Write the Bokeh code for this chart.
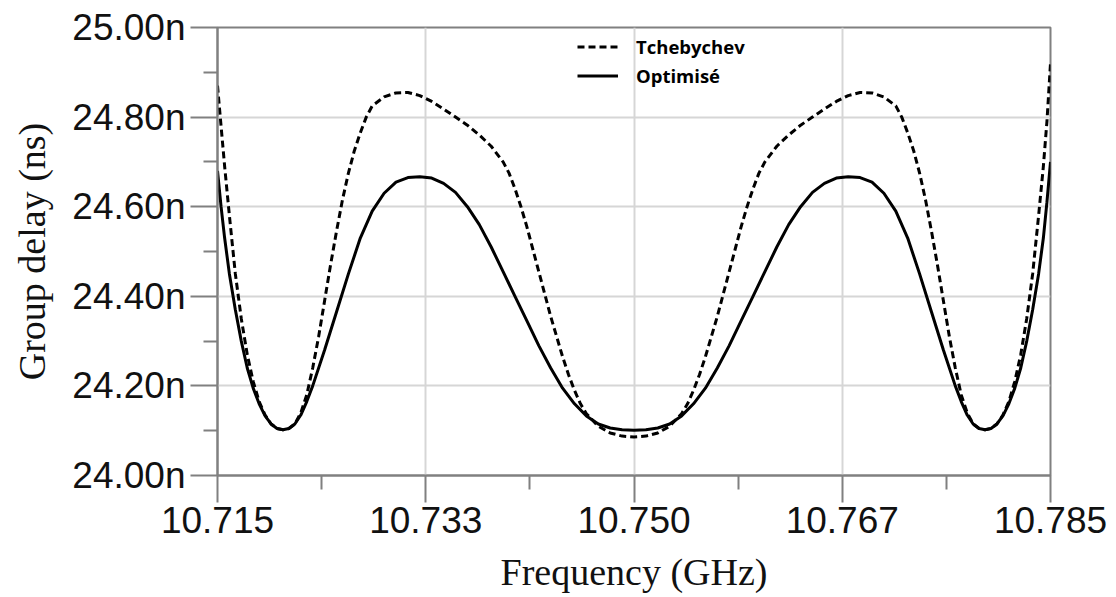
from bokeh.plotting import figure
from bokeh.models import Range1d, FixedTicker, CustomJSTickFormatter, PrintfTickFormatter, Legend, LegendItem
from bokeh.embed import file_html
from bokeh.resources import INLINE

# ---- data (frequency in GHz, group delay in ns) ----
freq_tcheb = [10.7150, 10.7153, 10.7156, 10.7160, 10.7165, 10.7170, 10.7175, 10.7180, 10.7185, 10.7190,
              10.7195, 10.7200, 10.7205, 10.7210, 10.7215, 10.7220, 10.7225, 10.7230, 10.7235, 10.7240,
              10.7245, 10.7250, 10.7255, 10.7260, 10.7265, 10.7270, 10.7275, 10.7280, 10.7290, 10.7300,
              10.7310, 10.7320, 10.7330, 10.7340, 10.7350, 10.7360, 10.7370, 10.7380, 10.7390, 10.7395,
              10.7400, 10.7405, 10.7410, 10.7415, 10.7420, 10.7425, 10.7430, 10.7435, 10.7440, 10.7445,
              10.7450, 10.7455, 10.7460, 10.7470, 10.7480, 10.7490, 10.7500,
              10.7510, 10.7520, 10.7530, 10.7540, 10.7545, 10.7550, 10.7555, 10.7560, 10.7565, 10.7570,
              10.7575, 10.7580, 10.7585, 10.7590, 10.7595, 10.7600, 10.7605, 10.7610, 10.7620, 10.7630,
              10.7640, 10.7650, 10.7660, 10.7670, 10.7680, 10.7690, 10.7700, 10.7710, 10.7720, 10.7725,
              10.7730, 10.7735, 10.7740, 10.7745, 10.7750, 10.7755, 10.7760, 10.7765, 10.7770, 10.7775,
              10.7780, 10.7785, 10.7790, 10.7795, 10.7800, 10.7805, 10.7810, 10.7815, 10.7820, 10.7825,
              10.7830, 10.7835, 10.7840, 10.7844, 10.7847, 10.7850]
delay_tcheb = [24.870, 24.780, 24.690, 24.580, 24.450, 24.350, 24.270, 24.210, 24.165, 24.135,
               24.115, 24.105, 24.102, 24.105, 24.115, 24.140, 24.180, 24.240, 24.310, 24.390,
               24.470, 24.545, 24.615, 24.675, 24.725, 24.765, 24.800, 24.825, 24.845, 24.854,
               24.855, 24.848, 24.835, 24.818, 24.800, 24.782, 24.760, 24.735, 24.700, 24.675,
               24.640, 24.600, 24.555, 24.505, 24.455, 24.405, 24.355, 24.310, 24.265, 24.225,
               24.190, 24.160, 24.138, 24.110, 24.095, 24.088, 24.086,
               24.088, 24.095, 24.110, 24.138, 24.160, 24.190, 24.225, 24.265, 24.310, 24.355,
               24.405, 24.455, 24.505, 24.555, 24.600, 24.640, 24.675, 24.700, 24.735, 24.760,
               24.782, 24.800, 24.818, 24.835, 24.848, 24.855, 24.854, 24.845, 24.825, 24.800,
               24.765, 24.725, 24.675, 24.615, 24.545, 24.470, 24.390, 24.310, 24.240, 24.180,
               24.140, 24.115, 24.105, 24.102, 24.105, 24.115, 24.135, 24.165, 24.210, 24.270,
               24.350, 24.450, 24.580, 24.690, 24.790, 24.920]

freq_optim = [10.7150, 10.7153, 10.7156, 10.7160, 10.7165, 10.7170, 10.7175, 10.7180, 10.7185, 10.7190,
              10.7195, 10.7200, 10.7205, 10.7210, 10.7215, 10.7220, 10.7225, 10.7230, 10.7240, 10.7250,
              10.7260, 10.7270, 10.7280, 10.7290, 10.7300, 10.7310, 10.7320, 10.7330, 10.7340, 10.7350,
              10.7360, 10.7370, 10.7380, 10.7390, 10.7400, 10.7410, 10.7420, 10.7430, 10.7440, 10.7450,
              10.7460, 10.7470, 10.7480, 10.7490, 10.7500,
              10.7510, 10.7520, 10.7530, 10.7540, 10.7550, 10.7560, 10.7570, 10.7580, 10.7590, 10.7600,
              10.7610, 10.7620, 10.7630, 10.7640, 10.7650, 10.7660, 10.7670, 10.7680, 10.7690, 10.7700,
              10.7710, 10.7720, 10.7730, 10.7740, 10.7750, 10.7760, 10.7770, 10.7775, 10.7780, 10.7785,
              10.7790, 10.7795, 10.7800, 10.7805, 10.7810, 10.7815, 10.7820, 10.7825, 10.7830, 10.7835,
              10.7840, 10.7844, 10.7847, 10.7850]
delay_optim = [24.680, 24.600, 24.530, 24.450, 24.370, 24.300, 24.240, 24.195, 24.160, 24.133,
               24.115, 24.105, 24.102, 24.105, 24.115, 24.135, 24.165, 24.200, 24.280, 24.365,
               24.450, 24.530, 24.590, 24.630, 24.655, 24.665, 24.667, 24.664, 24.652, 24.632,
               24.600, 24.560, 24.510, 24.455, 24.400, 24.345, 24.290, 24.240, 24.195, 24.160,
               24.133, 24.115, 24.106, 24.102, 24.101,
               24.102, 24.106, 24.115, 24.133, 24.160, 24.195, 24.240, 24.290, 24.345, 24.400,
               24.455, 24.510, 24.560, 24.600, 24.632, 24.652, 24.664, 24.667, 24.665, 24.655,
               24.630, 24.590, 24.530, 24.450, 24.365, 24.280, 24.200, 24.165, 24.135, 24.115,
               24.105, 24.102, 24.105, 24.115, 24.133, 24.160, 24.195, 24.240, 24.300, 24.370,
               24.450, 24.530, 24.610, 24.700]

x_ticks = [10.715, 10.7325, 10.75, 10.7675, 10.785]
x_tick_labels = ["10.715", "10.733", "10.750", "10.767", "10.785"]
x_minor_ticks = [10.72375, 10.74125, 10.75875, 10.77625]
y_ticks = [24.0, 24.2, 24.4, 24.6, 24.8, 25.0]
y_minor_ticks = [24.1, 24.3, 24.5, 24.7, 24.9]
series_names = ["Tchebychev", "Optimisé"]

AX = "#808080"

p = figure(width=1108, height=597, output_backend="svg", toolbar_location=None,
           x_range=Range1d(10.715, 10.785), y_range=Range1d(24.0, 25.0),
           min_border_left=217, min_border_right=58, min_border_top=27, min_border_bottom=122,
           x_axis_label="Frequency (GHz)", y_axis_label="Group delay (ns)")
p.background_fill_color = "white"
p.border_fill_color = "white"
p.outline_line_color = AX
p.outline_line_width = 2

p.xaxis.ticker = FixedTicker(ticks=x_ticks, minor_ticks=x_minor_ticks)
p.yaxis.ticker = FixedTicker(ticks=y_ticks, minor_ticks=y_minor_ticks)
p.xaxis.formatter = CustomJSTickFormatter(
    args=dict(tvals=x_ticks, tlabels=x_tick_labels),
    code="let i=0,b=1e9; for(let k=0;k<tvals.length;k++){const d=Math.abs(tvals[k]-tick); if(d<b){b=d;i=k}} return tlabels[i];")
p.yaxis.formatter = PrintfTickFormatter(format="%.2fn")

for ax in (p.xaxis[0], p.yaxis[0]):
    ax.axis_line_color = AX
    ax.axis_line_width = 2
    ax.major_tick_line_color = AX
    ax.major_tick_line_width = 2
    ax.minor_tick_line_color = AX
    ax.minor_tick_line_width = 2
    ax.major_tick_out = 27
    ax.major_tick_in = 0
    ax.minor_tick_out = 14
    ax.minor_tick_in = 0
    ax.major_label_text_font = "Liberation Sans"
    ax.major_label_text_font_size = "37px"
    ax.major_label_text_color = "#111111"
    ax.axis_label_text_font = "Liberation Serif"
    ax.axis_label_text_font_size = "38px"
    ax.axis_label_text_font_style = "normal"
    ax.axis_label_text_color = "#111111"

p.yaxis.major_label_standoff = 5
p.yaxis.axis_label_standoff = 16
p.xaxis.major_label_standoff = 4
p.xaxis.axis_label_standoff = 15

p.xgrid.grid_line_color = "#d6d6d6"
p.ygrid.grid_line_color = "#d6d6d6"
p.xgrid.grid_line_width = 2
p.ygrid.grid_line_width = 2

r_t = p.line(freq_tcheb, delay_tcheb, line_color="black", line_width=3, line_dash="7 4")
r_o = p.line(freq_optim, delay_optim, line_color="black", line_width=3)

legend = Legend(items=[LegendItem(label=series_names[0], renderers=[r_t]),
                       LegendItem(label=series_names[1], renderers=[r_o])],
                location=(360, 385))
legend.border_line_color = None
legend.background_fill_alpha = 0
legend.padding = 0
legend.margin = 0
legend.spacing = 0
legend.glyph_width = 41
legend.glyph_height = 29
legend.label_height = 29
legend.label_standoff = 18
legend.label_text_font = "Open Sans"
legend.label_text_font_style = "bold"
legend.label_text_font_size = "18.5px"
legend.label_text_color = "black"
p.add_layout(legend)

open("out.html", "w").write(file_html(p, INLINE))
